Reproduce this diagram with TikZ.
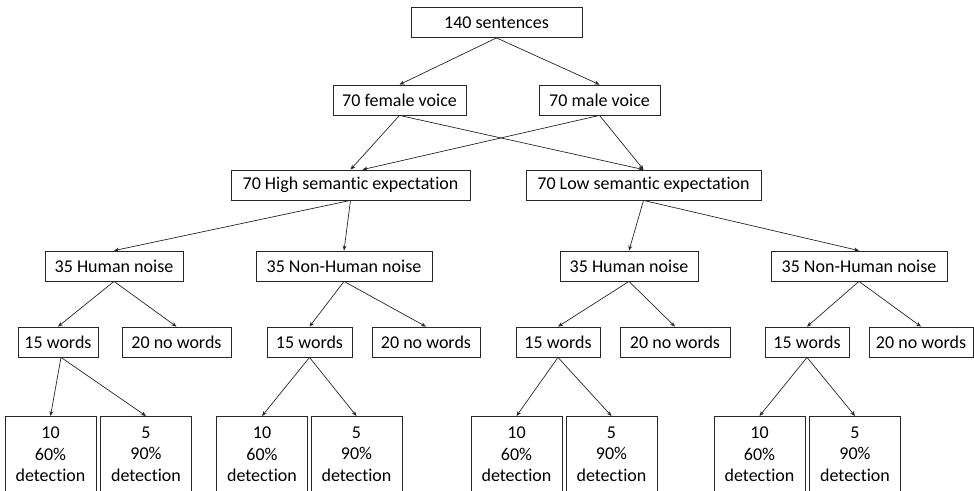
\documentclass[tikz,border=0pt]{standalone}
\usepackage{fontspec}
\setmainfont{Carlito}[Ligatures=NoCommon]
\usetikzlibrary{arrows.meta}
\newcommand\dfont{\fontsize{18}{21.5}\selectfont}
\begin{document}
\begin{tikzpicture}[x=1pt,y=-1pt,
  box/.style={draw=black!85, line width=0.8pt, minimum height=30pt, inner sep=0pt, font=\dfont},
  leaf/.style={draw=black!85, line width=0.8pt, anchor=north, align=center, minimum width=91pt, inner xsep=0pt, inner ysep=10.5pt, font=\dfont},
  arr/.style={draw=black!85, line width=0.7pt, -{Stealth[length=5pt,width=4pt]}}]
\useasboundingbox (0,0) rectangle (974,490);
\clip (0,0) rectangle (974,490);
% level 0
\node[box, minimum width=171pt] (s140) at (496.5,22.5) {140 sentences};
% level 1
\node[box, minimum width=133pt] (fem) at (399.5,100) {70 female voice};
\node[box, minimum width=121pt] (mal) at (599.5,100) {70 male voice};
% level 2
\node[box, minimum width=239pt] (high) at (350.5,185) {70 High semantic expectation};
\node[box, minimum width=235pt] (low) at (643.5,185) {70 Low semantic expectation};
% level 3
\node[box, minimum width=138pt] (hl) at (114,266) {35 Human noise};
\node[box, minimum width=176pt] (nl) at (344,266) {35 Non-Human noise};
\node[box, minimum width=138pt] (hr) at (629,266) {35 Human noise};
\node[box, minimum width=176pt] (nr) at (859,266) {35 Non-Human noise};
% level 4
\node[box, minimum width=80pt] (w1) at (58,342) {15 words};
\node[box, minimum width=109pt] (nw1) at (176.5,342) {20 no words};
\node[box, minimum width=85pt] (w2) at (309.5,342) {15 words};
\node[box, minimum width=108pt] (nw2) at (426,342) {20 no words};
\node[box, minimum width=84pt] (w3) at (558,342) {15 words};
\node[box, minimum width=110pt] (nw3) at (675,342) {20 no words};
\node[box, minimum width=84pt] (w4) at (807,342) {15 words};
\node[box, minimum width=104pt] (nw4) at (921,342) {20 no words};
% level 5
\node[leaf] (b1a) at (50.5,416) {10\\60\%\\detection};
\node[leaf] (b1b) at (146,416) {5\\90\%\\detection};
\node[leaf] (b2a) at (262,416) {10\\60\%\\detection};
\node[leaf] (b2b) at (356.5,416) {5\\90\%\\detection};
\node[leaf] (b3a) at (516.5,416) {10\\60\%\\detection};
\node[leaf] (b3b) at (611.5,416) {5\\90\%\\detection};
\node[leaf] (b4a) at (759.5,416) {10\\60\%\\detection};
\node[leaf] (b4b) at (855,416) {5\\90\%\\detection};
% connectors
\draw[arr] (s140.south) -- (fem.north);
\draw[arr] (s140.south) -- (mal.north);
\draw[arr] (fem.south) -- (high.north);
\draw[arr] (fem.south) -- (low.north);
\draw[arr] (mal.south) -- ([xshift=12pt]high.north);
\draw[arr] (mal.south) -- (low.north);
\draw[arr] (high.south) -- (hl.north);
\draw[arr] (high.south) -- (nl.north);
\draw[arr] (low.south) -- (hr.north);
\draw[arr] (low.south) -- (nr.north);
\draw[arr] (hl.south) -- (w1.north);
\draw[arr] (hl.south) -- (nw1.north);
\draw[arr] (nl.south) -- (w2.north);
\draw[arr] (nl.south) -- (nw2.north);
\draw[arr] (hr.south) -- (w3.north);
\draw[arr] (hr.south) -- (nw3.north);
\draw[arr] (nr.south) -- (w4.north);
\draw[arr] (nr.south) -- (nw4.north);
\draw[arr] ([xshift=3pt]w1.south) -- (b1a.north);
\draw[arr] ([xshift=3pt]w1.south) -- (b1b.north);
\draw[arr] (w2.south) -- (b2a.north);
\draw[arr] (w2.south) -- (b2b.north);
\draw[arr] (w3.south) -- (b3a.north);
\draw[arr] (w3.south) -- (b3b.north);
\draw[arr] (w4.south) -- (b4a.north);
\draw[arr] (w4.south) -- (b4b.north);
\end{tikzpicture}
\end{document}
